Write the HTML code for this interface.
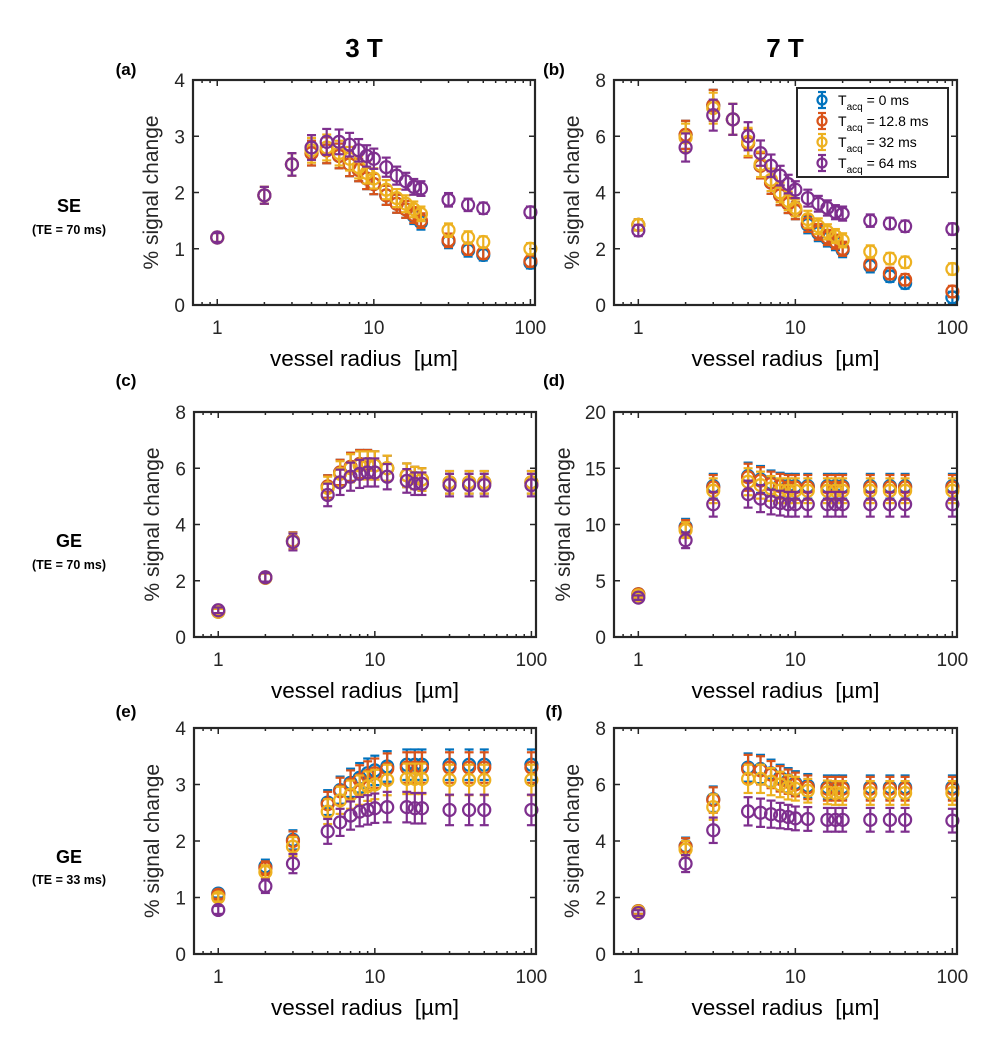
<!DOCTYPE html>
<html><head><meta charset="utf-8"><style>
html,body{margin:0;padding:0;background:#fff;}
svg{display:block;font-family:"Liberation Sans",Arial,sans-serif;}
</style></head><body>
<svg id="fig" width="1000" height="1038" viewBox="0 0 1000 1038" xmlns="http://www.w3.org/2000/svg">
<text x="364" y="57" font-size="26" font-weight="bold" text-anchor="middle" fill="#000">3 T</text>
<text x="785" y="57" font-size="26" font-weight="bold" text-anchor="middle" fill="#000">7 T</text>
<text x="69" y="212" font-size="18" font-weight="bold" text-anchor="middle">SE</text>
<text x="69" y="234" font-size="12.5" font-weight="bold" text-anchor="middle">(TE = 70 ms)</text>
<text x="69" y="547" font-size="18" font-weight="bold" text-anchor="middle">GE</text>
<text x="69" y="569" font-size="12.5" font-weight="bold" text-anchor="middle">(TE = 70 ms)</text>
<text x="69" y="863" font-size="18" font-weight="bold" text-anchor="middle">GE</text>
<text x="69" y="884" font-size="12.5" font-weight="bold" text-anchor="middle">(TE = 33 ms)</text>
</svg>
<script>
const xSE = [1,2,3,4,5,6,7,8,9,10,12,14,16,18,20,30,40,50,100];
const xGE = [1,2,3,5,6,7,8,9,10,12,16,18,20,30,40,50,100];

const aBlue   = [1.2,1.95,2.5,2.7,2.75,2.65,2.5,2.4,2.25,2.15,1.95,1.8,1.7,1.58,1.47,1.13,0.97,0.89,0.75];
const aRed    = [1.2,1.95,2.5,2.7,2.75,2.65,2.5,2.4,2.25,2.15,1.95,1.8,1.7,1.6,1.5,1.15,1.0,0.92,0.78];
const aYellow = [1.2,1.95,2.5,2.75,2.8,2.7,2.6,2.45,2.35,2.25,2.05,1.9,1.8,1.7,1.62,1.33,1.2,1.12,1.0];
const aPurple = [1.2,1.95,2.5,2.8,2.9,2.9,2.85,2.75,2.65,2.6,2.45,2.3,2.2,2.1,2.07,1.87,1.78,1.72,1.65];
const aErr    = [0.08,0.15,0.2,0.22,0.23,0.22,0.21,0.2,0.19,0.18,0.17,0.16,0.15,0.14,0.13,0.12,0.11,0.1,0.1];

const bBlue   = [2.85,6.05,7.1,6.6,5.75,4.95,4.35,3.9,3.6,3.35,2.85,2.55,2.35,2.2,1.95,1.38,1.02,0.78,0.27];
const bRed    = [2.85,6.05,7.1,6.6,5.75,4.95,4.35,3.9,3.6,3.35,2.9,2.6,2.4,2.25,2.0,1.45,1.12,0.9,0.48];
const bYellow = [2.85,5.95,7.0,6.6,5.8,5.0,4.45,4.0,3.7,3.45,3.05,2.8,2.6,2.45,2.3,1.9,1.65,1.52,1.28];
const bPurple = [2.65,5.6,6.75,6.6,6.0,5.4,4.95,4.6,4.3,4.1,3.8,3.6,3.45,3.3,3.25,3.0,2.9,2.8,2.7];
const bErr    = [0.2,0.5,0.55,0.55,0.5,0.45,0.4,0.35,0.33,0.3,0.3,0.28,0.27,0.25,0.25,0.22,0.2,0.2,0.2];

const cBlue   = [0.9,2.12,3.42,5.35,5.85,6.05,6.15,6.15,6.1,6.0,5.75,5.65,5.6,5.5,5.5,5.5,5.5];
const cRed    = [0.9,2.12,3.42,5.35,5.85,6.05,6.15,6.15,6.1,6.0,5.75,5.65,5.6,5.5,5.5,5.5,5.5];
const cYellow = [0.9,2.1,3.4,5.3,5.8,6.0,6.1,6.1,6.1,6.0,5.75,5.65,5.6,5.5,5.5,5.5,5.5];
const cPurple = [0.95,2.12,3.38,5.05,5.5,5.7,5.8,5.85,5.85,5.7,5.55,5.45,5.45,5.4,5.4,5.4,5.4];
const cErr    = [0.1,0.15,0.3,0.4,0.45,0.5,0.5,0.5,0.5,0.45,0.42,0.4,0.4,0.4,0.4,0.4,0.4];

const dBlue   = [3.8,9.8,13.4,14.3,14.0,13.7,13.5,13.4,13.4,13.4,13.4,13.4,13.4,13.4,13.4,13.4,13.4];
const dRed    = [3.8,9.7,13.3,14.2,13.9,13.6,13.4,13.3,13.3,13.3,13.3,13.3,13.3,13.3,13.3,13.3,13.3];
const dYellow = [3.7,9.5,13.0,13.8,13.5,13.2,13.0,13.0,13.0,13.0,13.0,13.0,13.0,13.0,13.0,13.0,13.0];
const dPurple = [3.5,8.6,11.8,12.7,12.3,12.0,11.9,11.8,11.8,11.8,11.8,11.8,11.8,11.8,11.8,11.8,11.8];
const dErr    = [0.2,0.7,1.1,1.2,1.2,1.1,1.1,1.1,1.1,1.1,1.1,1.1,1.1,1.1,1.1,1.1,1.1];

const eBlue   = [1.07,1.55,2.02,2.68,2.9,3.03,3.12,3.2,3.25,3.32,3.35,3.35,3.35,3.35,3.35,3.35,3.35];
const eRed    = [1.05,1.52,2.0,2.65,2.88,3.0,3.08,3.15,3.2,3.28,3.3,3.3,3.3,3.3,3.3,3.3,3.3];
const eYellow = [1.0,1.45,1.9,2.52,2.72,2.82,2.9,2.97,3.0,3.08,3.1,3.1,3.1,3.08,3.08,3.08,3.08];
const ePurple = [0.78,1.2,1.6,2.17,2.33,2.45,2.52,2.55,2.58,2.6,2.6,2.58,2.58,2.55,2.55,2.55,2.55];
const eErr    = [0.07,0.12,0.17,0.22,0.24,0.25,0.26,0.26,0.26,0.27,0.27,0.27,0.27,0.27,0.27,0.27,0.27];

const fBlue   = [1.52,3.82,5.48,6.6,6.55,6.4,6.25,6.15,6.05,5.95,5.9,5.9,5.9,5.9,5.9,5.9,5.9];
const fRed    = [1.52,3.8,5.45,6.55,6.5,6.35,6.2,6.1,6.0,5.9,5.85,5.85,5.85,5.85,5.85,5.85,5.85];
const fYellow = [1.5,3.7,5.2,6.2,6.2,6.1,6.0,5.9,5.85,5.78,5.72,5.7,5.7,5.7,5.7,5.7,5.7];
const fPurple = [1.45,3.2,4.38,5.05,5.0,4.95,4.9,4.85,4.8,4.78,4.75,4.75,4.75,4.75,4.75,4.75,4.72];
const fErr    = [0.1,0.3,0.45,0.5,0.5,0.48,0.45,0.43,0.42,0.42,0.42,0.42,0.42,0.42,0.42,0.42,0.42];

const yTicksA = [0,1,2,3,4];
const yTicksB = [0,2,4,6,8];
const yTicksD = [0,5,10,15,20];
const xTickLabels = [1,10,100];
const legendValues = ["0 ms","12.8 ms","32 ms","64 ms"];
const colors = ["#0072BD","#D95319","#EDB120","#7E2F8E"];

const NS = "http://www.w3.org/2000/svg";
const svg = document.getElementById("fig");
function mk(tag, attrs, parent){
  const e = document.createElementNS(NS, tag);
  for (const k in attrs) e.setAttribute(k, attrs[k]);
  (parent||svg).appendChild(e);
  return e;
}

const panels = [
  {id:"a", L:193, R:535, T:80, B:305, ymax:4, yt:yTicksA, x:xSE, s:[aBlue,aRed,aYellow,aPurple], err:aErr, lx:126, ly:75, yo:35},
  {id:"b", L:614, R:957, T:80, B:305, ymax:8, yt:yTicksB, x:xSE, s:[bBlue,bRed,bYellow,bPurple], err:bErr, lx:554, ly:75, legend:true, yo:35},
  {id:"c", L:194, R:536, T:412, B:637, ymax:8, yt:yTicksB, x:xGE, s:[cBlue,cRed,cYellow,cPurple], err:cErr, lx:126, ly:386, yo:35},
  {id:"d", L:614, R:957, T:412, B:637, ymax:20, yt:yTicksD, x:xGE, s:[dBlue,dRed,dYellow,dPurple], err:dErr, lx:554, ly:386, yo:44},
  {id:"e", L:194, R:536, T:728, B:954, ymax:4, yt:yTicksA, x:xGE, s:[eBlue,eRed,eYellow,ePurple], err:eErr, lx:126, ly:717, yo:35},
  {id:"f", L:614, R:957, T:728, B:954, ymax:8, yt:yTicksB, x:xGE, s:[fBlue,fRed,fYellow,fPurple], err:fErr, lx:554, ly:717, yo:35}
];
const XMIN = Math.log10(0.7), XMAX = Math.log10(107);

panels.forEach(p => {
  const g = mk("g", {});
  
  
  const xs = v => p.L + (Math.log10(v) - XMIN) / (XMAX - XMIN) * (p.R - p.L);
  const ys = v => p.B - v / p.ymax * (p.B - p.T);

  const lab = mk("text", {x:p.lx, y:p.ly, "font-size":17, "font-weight":"bold", "text-anchor":"middle"}, g);
  lab.textContent = "(" + p.id + ")";
  
  

  const tg = mk("g", {stroke:"#262626", "stroke-width":1.5}, g);
  
  
  for (let dec = 0; dec <= 2; dec++) {
    for (let m = 1; m <= 9; m++) {
      const v = m * Math.pow(10, dec);
      if (v < 0.7 || v > 107) continue;
      const x = xs(v), len = m === 1 ? 6 : 3;
      mk("line", {x1:x, x2:x, y1:p.B, y2:p.B - len}, tg);
      mk("line", {x1:x, x2:x, y1:p.T, y2:p.T + len}, tg);
    }
  }
  for (let m = 7; m <= 9; m++) {
    const x = xs(m / 10);
    mk("line", {x1:x, x2:x, y1:p.B, y2:p.B - 3}, tg);
    mk("line", {x1:x, x2:x, y1:p.T, y2:p.T + 3}, tg);
  }
  p.yt.forEach(t => {
    const y = ys(t);
    mk("line", {x1:p.L, x2:p.L + 6, y1:y, y2:y}, tg);
    mk("line", {x1:p.R, x2:p.R - 6, y1:y, y2:y}, tg);
    const tl = mk("text", {x:p.L - 8, y:y + 7, "font-size":19, "text-anchor":"end", fill:"#262626"}, g);
    tl.textContent = t;
    
    
  });
  xTickLabels.forEach(t => {
    const tl = mk("text", {x:xs(t), y:p.B + 29, "font-size":19, "text-anchor":"middle", fill:"#262626"}, g);
    tl.textContent = t;
    
    
  });

  const yl = mk("text", {x:0, y:0, "font-size":21, "text-anchor":"middle", fill:"#262626",
    transform:"translate(" + (p.L - p.yo) + "," + ((p.T + p.B) / 2) + ") rotate(-90)"}, g);
  yl.textContent = "% signal change";
  
  
  const xl = mk("text", {x:(p.L + p.R) / 2, y:p.B + 61, "font-size":22.5, "text-anchor":"middle", fill:"#000"}, g);
  xl.textContent = "vessel radius\u00A0\u00A0[\u00B5m]";
  
  

  p.s.forEach((vals, si) => {
    const sg = mk("g", {stroke:colors[si], fill:"none", "stroke-width":2.2}, g);
    
    
    vals.forEach((v, i) => {
      const x = xs(p.x[i]), y = ys(v), e = p.err[i];
      const y1 = ys(v + e), y2 = ys(v - e);
      mk("line", {x1:x, x2:x, y1:y1, y2:y2}, sg);
      mk("line", {x1:x - 4.5, x2:x + 4.5, y1:y1, y2:y1}, sg);
      mk("line", {x1:x - 4.5, x2:x + 4.5, y1:y2, y2:y2}, sg);
      const c = mk("circle", {cx:x, cy:y, r:6}, sg);
      
      
    });
  });

  const box = mk("rect", {x:p.L, y:p.T, width:p.R - p.L, height:p.B - p.T, fill:"none", stroke:"#262626", "stroke-width":2.2}, g);
  
  

  if (p.legend) {
    const lg = mk("g", {}, g);
    
    
    mk("rect", {x:797, y:88, width:151, height:89, fill:"#fff", stroke:"#262626", "stroke-width":2}, lg);
    legendValues.forEach((lv, i) => {
      const ey = 100 + i * 21;
      const eg = mk("g", {}, lg);
      
      
      const s = mk("g", {stroke:colors[i], fill:"none", "stroke-width":2.2}, eg);
      mk("line", {x1:822, x2:822, y1:ey - 8, y2:ey + 8}, s);
      mk("line", {x1:818, x2:826, y1:ey - 8, y2:ey - 8}, s);
      mk("line", {x1:818, x2:826, y1:ey + 8, y2:ey + 8}, s);
      mk("circle", {cx:822, cy:ey, r:4.5}, s);
      const t = mk("text", {x:838, y:ey + 5, "font-size":14, fill:"#000"}, eg);
      const t1 = mk("tspan", {}, t); t1.textContent = "T";
      const t2 = mk("tspan", {"font-size":10, dy:5}, t); t2.textContent = "acq";
      const t3 = mk("tspan", {dy:-5}, t); t3.textContent = " = " + lv;
    });
  }
});
</script>
</body></html>
